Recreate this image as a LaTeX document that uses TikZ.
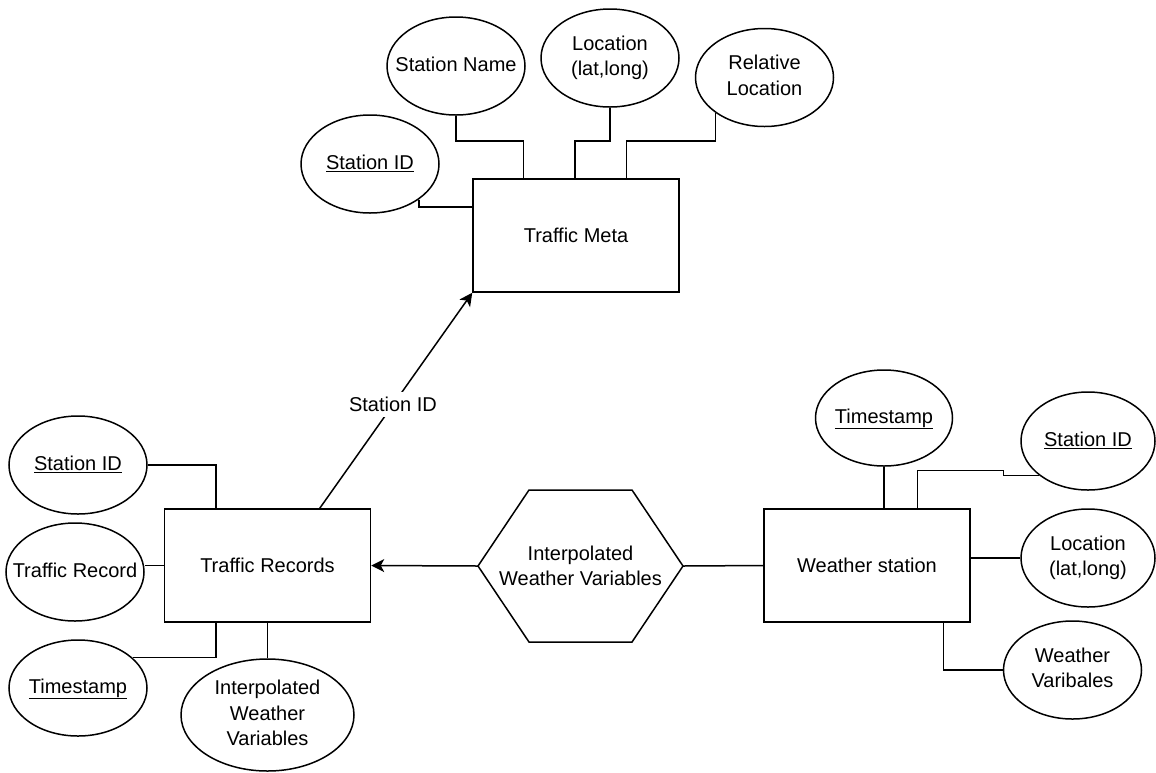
\documentclass[tikz,border=0pt]{standalone}
\usepackage{fontspec}
\setmainfont{Liberation Sans}
\usetikzlibrary{arrows.meta,calc,shapes.geometric}
\newcommand\attrtext[1]{\makebox[0pt]{\begin{tabular}{@{}c@{}}#1\end{tabular}}}
\begin{document}
\begin{tikzpicture}[x=1pt,y=-1pt,line width=1.5pt,
  every node/.style={font=\fontsize{20}{25.5}\selectfont},
  entity/.style={draw,rectangle,minimum width=206pt,minimum height=113pt,inner sep=0pt},
  attr/.style={draw,ellipse,minimum width=138pt,minimum height=98pt,inner sep=0pt},
  arr/.style={-{Stealth[length=13pt,width=13pt,inset=3.5pt]}}]
\useasboundingbox (0,0) rectangle (1156,772);

% entities
\node[entity] (TM) at (576,235.5) {Traffic Meta};
\node[entity] (TR) at (267.5,565.5) {Traffic Records};
\node[entity] (WS) at (867,565.5) {Weather station};

% attributes of Traffic Meta
\node[attr] (sid1) at (370,164) {\attrtext{\underline{Station ID}}};
\node[attr] (sname) at (456,66) {\attrtext{Station Name}};
\node[attr] (loc1) at (610,58) {\attrtext{Location\\(lat,long)}};
\node[attr] (rel) at (764.5,77.5) {\attrtext{Relative\\Location}};

% attributes of Traffic Records
\node[attr] (sid2) at (78,465) {\attrtext{\underline{Station ID}}};
\node[attr] (trec) at (75,572) {\attrtext{Traffic Record}};
\node[attr,minimum height=96pt] (ts1) at (78,688) {\attrtext{\underline{Timestamp}}};
\node[attr,minimum width=173pt,minimum height=112pt] (iwv) at (267.5,715) {\attrtext{Interpolated\\Weather\\Variables}};

% attributes of Weather station
\node[attr,minimum width=137pt,minimum height=96pt] (ts2) at (884,418) {\attrtext{\underline{Timestamp}}};
\node[attr,minimum width=134pt] (sid3) at (1088,441) {\attrtext{\underline{Station ID}}};
\node[attr,minimum width=134pt] (loc2) at (1088,558) {\attrtext{Location\\(lat,long)}};
\node[attr] (wvar) at (1072.5,670) {\attrtext{Weather\\Varibales}};

% relationship hexagon
\coordinate (hexL) at (478,566);
\coordinate (hexR) at (683,566);
\draw (hexL) -- (529,490) -- (632,490) -- (hexR) -- (632,642) -- (529,642) -- cycle;
\node[align=center] (hex) at (580.5,566) {Interpolated\\Weather Variables};

% connectors: Traffic Meta
\draw (sid1.-36) |- ($(TM.north west)+(0,28.7)$);
\draw (sname.south) |- ($(TM.north west)+(51.3,-37.3)$) -- ($(TM.north west)+(51.3,0)$);
\draw (loc1.south) |- ($(TM.north west)+(102.7,-37.3)$) -- ($(TM.north west)+(102.7,0)$);
\draw (rel.216) |- ($(TM.north west)+(154,-37.3)$) -- ($(TM.north west)+(154,0)$);

% connectors: Traffic Records
\draw (sid2.east) -| ($(TR.north west)+(52,0)$);
\draw (TR.west) -- (TR.west -| trec.east);
\draw ($(TR.south west)+(52,0)$) |- (ts1.29);
\draw (TR.south) -- (iwv.north);

% connectors: Weather station
\draw (ts2.south) -- (ts2.south |- WS.north);
\draw ($(WS.north west)+(154.3,0)$) |- ($(WS.north west)+(240.3,-38)$) |- (sid3.215);
\draw (loc2.west) -- (loc2.west -| WS.east);
\draw ($(WS.south west)+(180.3,0)$) |- (wvar.west);

% relationships
\draw[arr] ($(TR.north west)+(156,0)$) -- (TM.south west)
  node[pos=0.48,fill=white,inner sep=5pt] (lbl) {Station ID};
\draw[arr] (hexL) -- (TR.east);
\draw (hexR) -- (WS.west);
\end{tikzpicture}
\end{document}
